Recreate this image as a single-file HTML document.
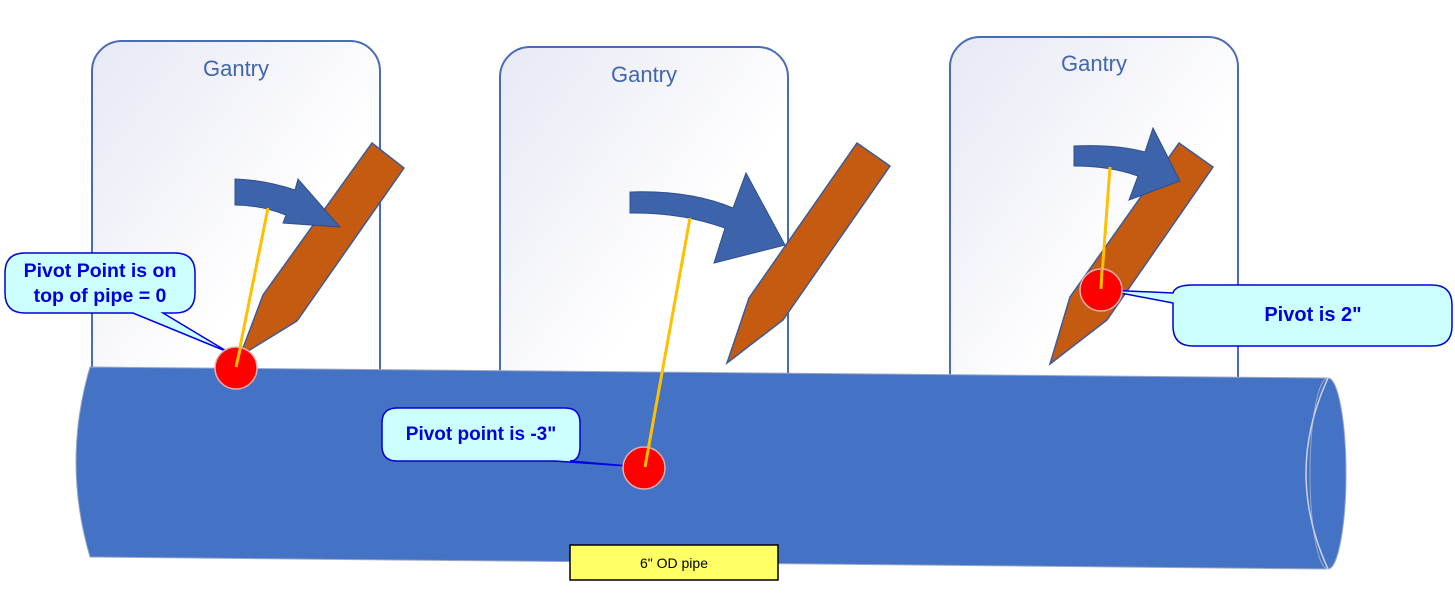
<!DOCTYPE html>
<html><head><meta charset="utf-8"><style>body{margin:0;background:#fff}svg{display:block}</style></head><body>
<svg width="1455" height="602" viewBox="0 0 1455 602" xmlns="http://www.w3.org/2000/svg" font-family="Liberation Sans, sans-serif">
<defs>
<linearGradient id="g" x1="0" y1="0" x2="1" y2="1"><stop offset="0" stop-color="#e6e8f4"/><stop offset="0.6" stop-color="#ffffff"/></linearGradient>
</defs>
<rect x="92" y="41" width="288" height="380" rx="30" fill="url(#g)" stroke="#4a6cb5" stroke-width="2"/>
<rect x="500" y="47" width="288" height="380" rx="30" fill="url(#g)" stroke="#4a6cb5" stroke-width="2"/>
<rect x="950" y="37" width="288" height="380" rx="30" fill="url(#g)" stroke="#4a6cb5" stroke-width="2"/>
<g font-size="22" fill="#4066b0" text-anchor="middle">
<text x="236" y="76">Gantry</text><text x="644" y="82">Gantry</text><text x="1094" y="71">Gantry</text></g>
<!-- pipe -->
<path d="M90,367 L1328,378 L1328,569 L90,557 Q62,462 90,367 Z" fill="#4472c4" stroke="#9aa7c4" stroke-width="1"/>
<ellipse cx="1328" cy="473.5" rx="18" ry="95.5" fill="#4472c4" stroke="#9aa7c4"/>
<path d="M1328,378 Q1284,473 1328,569" fill="none" stroke="#c9d3ea" stroke-width="1.5"/>
<!-- tools -->
<g fill="#c55a11" stroke="#3b5b9a" stroke-width="1.5">
<polygon points="372,143 404,168 297,321 240,356 263,295"/>
<polygon points="857,143 890,166 783,320 727,363 749,298"/>
<polygon points="1179,143 1213,167 1107,320 1050,364 1070,297"/>
</g>
<g fill="#3d63ab" stroke="#2f4f8f" stroke-width="1">
<path d="M235,179 Q265,180 295,190 L298,179 L340,227 L283,223 L286,215 Q260,205 235,205 Z"/>
<path d="M630,192 Q690,190 733,208 L746,173 L785,245 L714,263 L725,228 Q680,212 630,213 Z"/>
<path d="M1074,146 Q1115,144 1145,152 L1153,128 L1180,181 L1129,200 L1138,176 Q1110,166 1074,166 Z"/>
</g>
<!-- callouts -->
<g fill="#ccffff" stroke="#0000dd" stroke-width="1.5">
<path d="M25,253 H175 Q195,253 195,273 V293 Q195,313 175,313 H163 L228,352 L133,313 H25 Q5,313 5,293 V273 Q5,253 25,253 Z"/>
<path d="M397,408 H565 Q580,408 580,423 V446 Q580,461 570,461 L628,466 L555,461 H397 Q382,461 382,446 V423 Q382,408 397,408 Z"/>
<path d="M1193,285 H1432 Q1452,285 1452,305 V326 Q1452,346 1432,346 H1193 Q1173,346 1173,326 V303 L1105,290 L1173,293 Q1175,285 1193,285 Z"/>
</g>
<!-- yellow lines -->
<g stroke="#ffc000" stroke-width="3">
<line x1="268" y1="208" x2="236" y2="367"/><line x1="690" y1="218" x2="645" y2="467"/><line x1="1110" y1="167" x2="1101" y2="289"/></g>
<g fill="#ff0000" stroke="#e0b0b0" stroke-width="1.5">
<circle cx="236" cy="368" r="21"/><circle cx="644" cy="468" r="21"/><circle cx="1101" cy="290" r="21"/></g>
<g stroke="#ffc000" stroke-width="3">
<line x1="241" y1="345" x2="236" y2="367"/><line x1="649" y1="445" x2="645" y2="467"/><line x1="1102" y1="270" x2="1101" y2="289"/></g>
<g font-weight="bold" fill="#0000dd" text-anchor="middle">
<text x="100" y="277" font-size="19.5">Pivot Point is on</text><text x="100" y="302" font-size="19.5">top of pipe = 0</text>
<text x="481" y="440" font-size="19">Pivot point is -3"</text>
<text x="1313" y="321" font-size="20">Pivot is 2"</text></g>
<rect x="570" y="545" width="208" height="35" fill="#ffff66" stroke="#000" stroke-width="1.5"/>
<text x="674" y="568" font-size="14" text-anchor="middle" fill="#000">6" OD pipe</text>
</svg>
</body></html>
